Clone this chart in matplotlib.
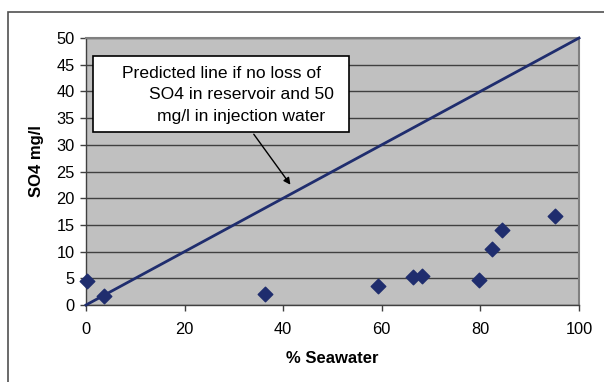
import matplotlib.pyplot as plt
from matplotlib.patches import Rectangle

plt.rcParams['font.family'] = ['Liberation Sans', 'DejaVu Sans']

# measured points
seawater = [0.3, 3.7, 36.4, 59.2, 66.4, 68.2, 79.7, 82.4, 84.4, 95.1]
so4 = [4.5, 1.7, 2.1, 3.6, 5.2, 5.4, 4.7, 10.5, 14.0, 16.7]

# predicted line (no loss)
pred_x = [0, 100]
pred_y = [0, 50]

navy = '#1F2D6E'

fig = plt.figure(figsize=(6.04, 3.82), dpi=100)
ax = fig.add_axes([86 / 604, 1 - 305 / 382, (579 - 86) / 604, (305 - 38) / 382])

# outer chart border
fig.patches.append(Rectangle((8 / 604, -0.2), 1.2, 1.2 + (370 / 382 - 1), transform=fig.transFigure,
                             fill=False, edgecolor='#505050', linewidth=1.2))

ax.set_facecolor('#C0C0C0')
ax.set_xlim(0, 100)
ax.set_ylim(0, 50)
ax.set_xticks(range(0, 101, 20))
ax.set_yticks(range(0, 51, 5))
ax.yaxis.grid(True, color='#404040', linewidth=1.0)
ax.set_axisbelow(True)

for side in ['top', 'right']:
    ax.spines[side].set_color('#808080')
    ax.spines[side].set_linewidth(1.5)
for side in ['left', 'bottom']:
    ax.spines[side].set_color('#404040')
    ax.spines[side].set_linewidth(1.0)

ax.tick_params(direction='out', length=4, width=1, color='#404040', labelsize=11.8, pad=4)
ax.tick_params(axis='x', pad=8)

ax.plot(pred_x, pred_y, color=navy, linewidth=2, clip_on=False, zorder=3)
ax.scatter(seawater, so4, marker='D', s=55, color=navy, clip_on=False, zorder=4)

ax.set_xlabel('% Seawater', fontsize=12, fontweight='bold', labelpad=10)
ax.set_ylabel('SO4 mg/l', fontsize=12, fontweight='bold', labelpad=10)
ax.yaxis.set_label_coords(-0.085, 0.54)

# annotation box
ax.add_patch(Rectangle((1.4, 32.4), 52, 14.2, facecolor='white', edgecolor='black',
                       linewidth=1.2, zorder=5))
ax.text(7.3, 43.4, 'Predicted line if no loss of', fontsize=12.6, ha='left', va='center', zorder=6)
ax.text(12.8, 39.4, 'SO4 in reservoir and 50', fontsize=12.6, ha='left', va='center', zorder=6)
ax.text(14.4, 35.3, 'mg/l in injection water', fontsize=12.6, ha='left', va='center', zorder=6)
ax.annotate('', xy=(41.8, 22.1), xytext=(33.7, 32.4),
            arrowprops=dict(arrowstyle='-|>', color='black', linewidth=1, mutation_scale=10),
            zorder=6)

fig.savefig('out.png', dpi=100)
